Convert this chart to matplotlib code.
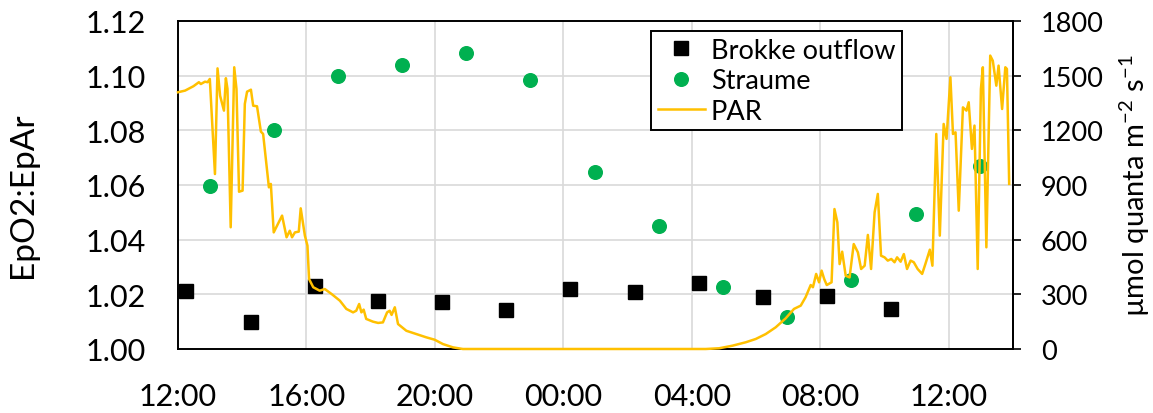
import matplotlib

matplotlib.use("Agg")
import matplotlib.pyplot as plt

plt.rcParams["font.family"] = ["Lato", "DejaVu Sans"]
plt.rcParams["mathtext.default"] = "regular"

# hours after 12:00 on the first day
brokke_hours = [0.24, 2.26, 4.26, 6.23, 8.22, 10.22, 12.21, 14.22, 16.23, 18.22, 20.22, 22.20]
brokke_ratio = [1.0212, 1.0098, 1.0229, 1.0177, 1.0173, 1.0143, 1.0219, 1.0207,
                1.0241, 1.0189, 1.0195, 1.0146]

straume_hours = [0.99, 2.98, 4.98, 6.98, 8.97, 10.97, 12.97, 14.98, 16.97, 18.97,
                 20.97, 22.98, 24.97]
straume_ratio = [1.0598, 1.0802, 1.1000, 1.1039, 1.1082, 1.0984, 1.0646, 1.0451,
                 1.0226, 1.0116, 1.0254, 1.0494, 1.0671]

par_hours = [0.00, 0.22, 0.48, 0.65, 0.71, 0.84, 0.92, 0.99, 1.15, 1.23, 1.31, 1.43,
             1.49, 1.54, 1.64, 1.75, 1.82, 1.90, 2.01, 2.08, 2.15, 2.27, 2.34, 2.46,
             2.58, 2.65, 2.83, 2.89, 2.98, 3.24, 3.38, 3.48, 3.55, 3.64, 3.76, 3.82,
             3.95, 4.03, 4.08, 4.21, 4.41, 4.57, 4.78, 5.04, 5.24, 5.45, 5.55, 5.64,
             5.71, 5.78, 5.86, 6.07, 6.23, 6.38, 6.51, 6.59, 6.65, 6.75, 6.85, 7.11,
             7.42, 7.73, 7.99, 8.25, 8.56, 8.87, 16.43, 16.85, 17.26, 17.68, 17.99,
             18.30, 18.61, 18.92, 19.18, 19.39, 19.54, 19.70, 19.77, 19.87, 19.96,
             20.04, 20.12, 20.20, 20.35, 20.44, 20.53, 20.60, 20.68, 20.79, 20.91,
             21.04, 21.17, 21.27, 21.38, 21.48, 21.58, 21.69, 21.79, 21.89, 22.00,
             22.10, 22.21, 22.31, 22.39, 22.50, 22.60, 22.70, 22.81, 22.91, 23.03,
             23.17, 23.27, 23.41, 23.49, 23.61, 23.72, 23.84, 23.93, 24.05, 24.13,
             24.21, 24.31, 24.44, 24.55, 24.62, 24.72, 24.80, 24.90, 25.00, 25.06,
             25.17, 25.29, 25.37, 25.48, 25.55, 25.66, 25.76, 25.81, 25.88]
par_values = [1409, 1418, 1442, 1464, 1454, 1467, 1464, 1482, 960, 1540, 1390, 1308,
              1486, 1427, 668, 1546, 1427, 863, 869, 1345, 1412, 1423, 1335, 1332,
              1193, 1180, 887, 906, 640, 732, 613, 649, 613, 640, 644, 772,
              622, 567, 384, 339, 320, 329, 302, 265, 220, 201, 210, 247,
              201, 216, 165, 150, 143, 146, 201, 210, 187, 229, 137, 100,
              82, 64, 51, 27, 9, 0, 0, 4, 18, 37, 55,
              82, 119, 168, 220, 238, 284, 351, 339, 412, 366,
              430, 384, 351, 366, 768, 695, 466, 534, 402, 393,
              576, 530, 439, 457, 626, 439, 750, 851, 512, 503,
              485, 494, 476, 503, 479, 521, 439, 485, 476, 439,
              412, 466, 545, 457, 1180, 622, 1235, 1153, 1491, 1180,
              1189, 759, 1326, 1308, 1354, 1098, 1226, 439, 1427, 1546,
              558, 1610, 1582, 1445, 1555, 1317, 1546, 1537, 906]

tick_hours = [0, 4, 8, 12, 16, 20, 24]
tick_labels = ["12:00", "16:00", "20:00", "00:00", "04:00", "08:00", "12:00"]
ratio_ticks = [1.00, 1.02, 1.04, 1.06, 1.08, 1.10, 1.12]
par_ticks = [0, 300, 600, 900, 1200, 1500, 1800]

GRID = "#d9d9d9"

fig = plt.figure(figsize=(11.53, 4.14), dpi=100)
ax = fig.add_axes([0.1544, 0.1546, 0.7242, 0.7923])
ax2 = ax.twinx()

l1, = ax.plot(brokke_hours, brokke_ratio, ls="none", marker="s", ms=9.6,
              color="black", label="Brokke outflow")
l2, = ax.plot(straume_hours, straume_ratio, ls="none", marker="o", ms=9.8,
              color="#00b050", mec="#00b050", label="Straume")
# PAR sits on the secondary axis, drawn over the ratio markers
l3, = ax2.plot(par_hours, par_values, color="#ffc000", lw=1.8, label="PAR",
               clip_on=False)

ax.set_xlim(0, 26)
ax.set_ylim(1.00, 1.12)
ax2.set_ylim(0, 1800)

ax.set_xticks(tick_hours)
ax.set_xticklabels(tick_labels)
ax.set_yticks(ratio_ticks)
ax.set_yticklabels([f"{v:.2f}" for v in ratio_ticks])
ax2.set_yticks(par_ticks)

ax.grid(True, color=GRID, lw=1.2)
ax.set_axisbelow(True)
ax.tick_params(axis="both", length=0, labelsize=22)
ax.tick_params(axis="y", pad=23)
ax.tick_params(axis="x", pad=24)
ax2.tick_params(axis="y", direction="out", length=6, width=1.2, labelsize=19.5, pad=14)

for sp in ax.spines.values():
    sp.set_linewidth(1.4)
for side in ["left", "top", "bottom"]:
    ax2.spines[side].set_visible(False)
ax2.spines["right"].set_linewidth(1.4)

fig.text(23 / 1153, 0.529, "EpO2:EpAr", rotation=90, ha="center", va="center",
         fontsize=24)
fig.text(1135 / 1153, 0.551, "µmol quanta m$^{-2}$ s$^{-1}$", rotation=90,
         ha="center", va="center", fontsize=21)

leg = ax2.legend(handles=[l1, l2, l3], loc="upper left",
                 bbox_to_anchor=(651 / 1153, 1 - 32 / 414),
                 bbox_transform=fig.transFigure, fontsize=19.5, frameon=True,
                 fancybox=False, framealpha=1, edgecolor="black",
                 borderpad=0.25, labelspacing=0.2, handlelength=1.75,
                 handletextpad=0.21, borderaxespad=0)
leg.get_frame().set_linewidth(1.4)

fig.savefig("out.png", dpi=100)
plt.close(fig)
